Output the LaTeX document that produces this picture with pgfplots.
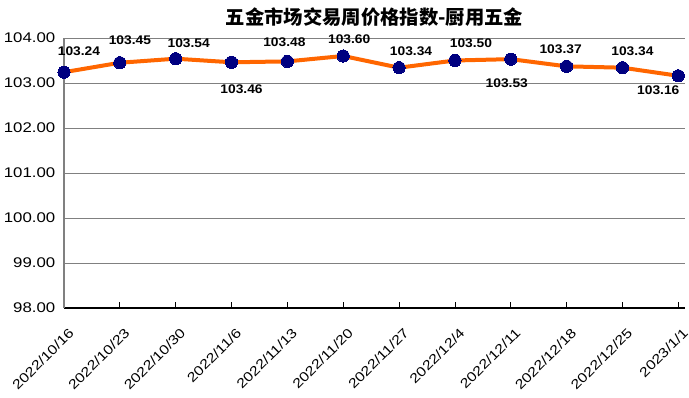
\documentclass[border=0pt]{standalone}
\usepackage{pgfplots}
\usepackage{pgfplotstable}
\pgfplotsset{compat=1.18}
\usepackage{fontspec}
\setmainfont{Liberation Sans}[FakeStretch=1.2]
\newfontfamily\lblfont{Liberation Sans}[FakeStretch=1.1]
\newfontfamily\cjk{Noto Sans CJK SC}
\definecolor{lineor}{HTML}{FF6600}
\definecolor{mknavy}{HTML}{000080}
\pgfplotstableread{
x y dx dy
0 103.24 11.25 15.75
1 103.45 7.5 17
2 103.54 9.75 12
3 103.46 7.5 -20.25
4 103.48 -2.25 14.25
5 103.60 4.5 12.75
6 103.34 9 12.75
7 103.50 12 12.75
8 103.53 -3 -18
9 103.37 -4.5 12.75
10 103.34 7.5 12.75
11 103.16 -15 -10.5
}\datatab
\begin{document}
\begin{tikzpicture}
\path[use as bounding box] (-48pt,-67.5pt) rectangle (468.75pt,231pt);
\begin{axis}[
  scale only axis, width=465.75pt, height=202.5pt,
  xmin=0, xmax=11.12, ymin=98, ymax=104,
  ytick={98,99,...,104},
  yticklabel style={/pgf/number format/fixed, /pgf/number format/fixed zerofill, /pgf/number format/precision=2, font=\fontsize{10.5}{12}\selectfont, xshift=-3pt},
  /pgf/number format/assume math mode=true,
  xtick={0,...,11},
  xticklabels={2022/10/16,2022/10/23,2022/10/30,2022/11/6,2022/11/13,2022/11/20,2022/11/27,2022/12/4,2022/12/11,2022/12/18,2022/12/25,2023/1/1},
  xticklabel style={rotate=45, anchor=north east, font=\fontsize{10}{12}\selectfont, inner sep=0pt, yshift=-12pt, xshift=-8pt},
  ymajorgrids, grid style={gray, line width=0.6pt},
  axis x line*=bottom, axis y line*=left,
  x axis line style={black, line width=0.8pt, -},
  y axis line style={gray, line width=0.8pt, -},
  xtick style={black, line width=0.6pt},
  ytick style={draw=none},
  tick align=inside, major tick length=4.5pt,
  clip=false,
  title={\cjk\bfseries 五金市场交易周价格指数-厨用五金},
  title style={font=\fontsize{14.5}{16}\selectfont, yshift=-1pt},
]
\addplot[lineor, line width=3pt, mark=*, mark size=4.6pt, mark options={fill=mknavy, draw=mknavy, line width=0pt},
  visualization depends on={\thisrow{dx} \as \dx},
  visualization depends on={\thisrow{dy} \as \dy},
  nodes near coords={\pgfmathprintnumber[fixed, fixed zerofill, precision=2]{\pgfplotspointmeta}},
  every node near coord/.append style={font=\lblfont\bfseries\fontsize{9.4}{10}\selectfont, black, anchor=center, xshift=\dx pt, yshift=\dy pt},
] table[x=x, y=y] {\datatab};
\end{axis}
\end{tikzpicture}
\end{document}
